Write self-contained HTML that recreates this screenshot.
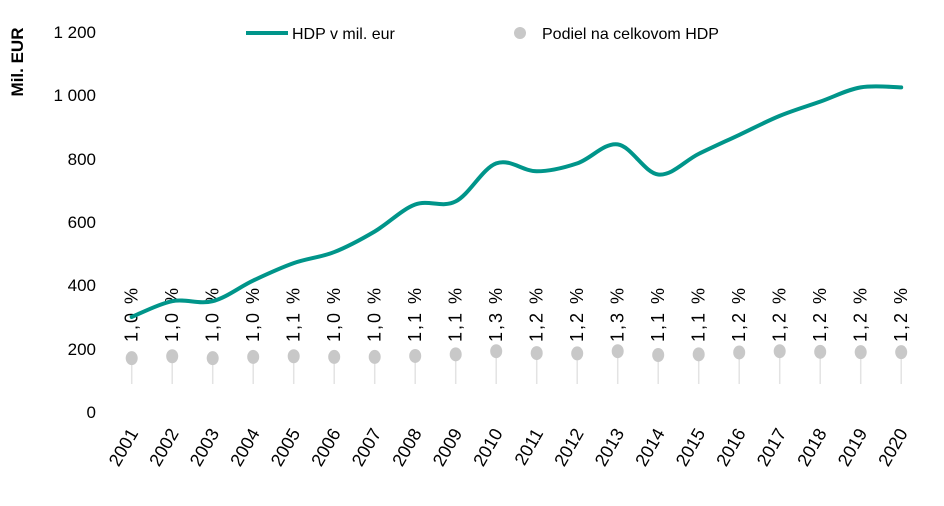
<!DOCTYPE html>
<html><head><meta charset="utf-8"><style>
body{margin:0;background:#fff;}
svg{display:block;font-family:"Liberation Sans Narrow","Liberation Sans",sans-serif;}
</style></head><body>
<svg width="944" height="506" viewBox="0 0 944 506">
<g font-size="17" fill="#000" text-anchor="end">
<text x="96" y="38">1 200</text>
<text x="96" y="101">1 000</text>
<text x="96" y="165">800</text>
<text x="96" y="228">600</text>
<text x="96" y="291">400</text>
<text x="96" y="355">200</text>
<text x="96" y="418">0</text>
</g>
<text transform="translate(23,62) rotate(-90)" font-size="17" font-weight="bold" text-anchor="middle">Mil. EUR</text>
<line x1="246" y1="33" x2="288" y2="33" stroke="#00958a" stroke-width="4"/>
<text x="292" y="39" font-size="16">HDP v mil. eur</text>
<circle cx="520" cy="33" r="6" fill="#c8c8c8"/>
<text x="542" y="39" font-size="16">Podiel na celkovom HDP</text>
<g id="pts"></g>
<path id="ln" fill="none" stroke="#00958a" stroke-width="4" stroke-linecap="round"/>
</svg>
<script>
var vals=[300,350,350,415,470,505,570,655,665,785,760,785,845,750,815,875,935,980,1025,1025];
var dots=[170,176,170,174,176,174,174,177,182,192,186,185,192,180,182,188,192,190,189,189];
var pct=["1,0","1,0","1,0","1,0","1,1","1,0","1,0","1,1","1,1","1,3","1,2","1,2","1,3","1,1","1,1","1,2","1,2","1,2","1,2","1,2"];
function X(i){return 131.7+i*40.5;}function Y(v){return 412-v*0.3167;}
var g=document.getElementById('pts'),s='';
for(var i=0;i<20;i++){var x=X(i),dy=Y(dots[i]);
s+='<line x1="'+x+'" y1="'+dy+'" x2="'+x+'" y2="384" stroke="#e3e3e3" stroke-width="1.5"/>';
s+='<ellipse cx="'+x+'" cy="'+dy+'" rx="6" ry="7" fill="#c8c8c8"/>';
s+='<text transform="translate('+(x+6)+',314) rotate(-90)" font-size="18" letter-spacing="2" text-anchor="middle">'+pct[i]+' %</text>';
s+='<text transform="translate('+(x+7)+',433) rotate(-60)" font-size="18" text-anchor="end">'+(2001+i)+'</text>';}
g.innerHTML=s;
var p=[];for(i=0;i<20;i++)p.push([X(i),Y(vals[i])]);
var d='M'+p[0][0]+','+p[0][1];
for(i=0;i<19;i++){var p0=p[i-1]||p[i],p1=p[i],p2=p[i+1],p3=p[i+2]||p2,t=0.17;
d+=' C'+(p1[0]+(p2[0]-p0[0])*t)+','+(p1[1]+(p2[1]-p0[1])*t)+' '+(p2[0]-(p3[0]-p1[0])*t)+','+(p2[1]-(p3[1]-p1[1])*t)+' '+p2[0]+','+p2[1];}
document.getElementById('ln').setAttribute('d',d);
</script>
</body></html>
